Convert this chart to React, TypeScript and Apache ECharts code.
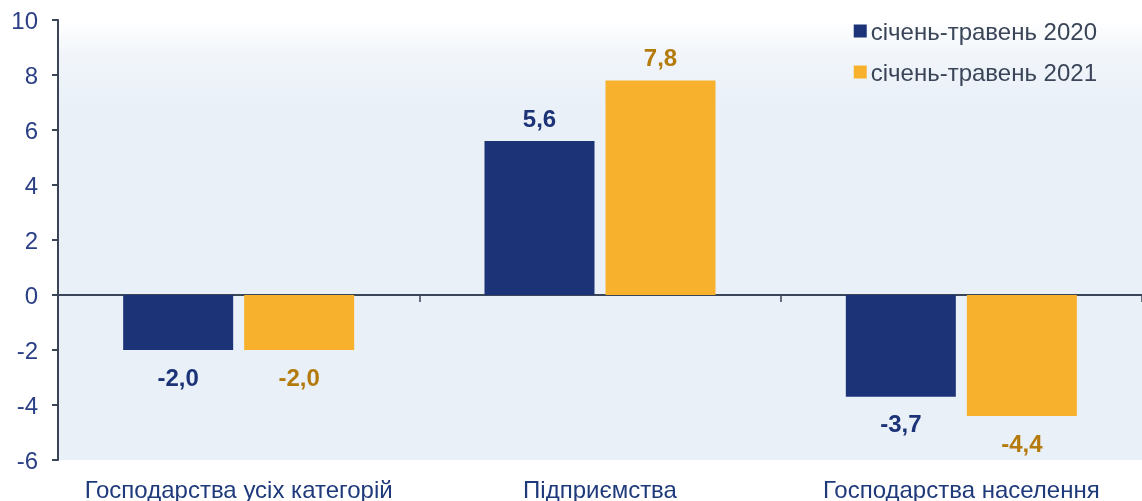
import React, { useEffect, useRef } from "react";
import * as echarts from "echarts";

const categories = ["Господарства усіх категорій", "Підприємства", "Господарства населення"];
const seriesNames = ["січень-травень 2020", "січень-травень 2021"];
const values2020 = [-2.0, 5.6, -3.7];
const values2021 = [-2.0, 7.8, -4.4];
const barColors = ["#1D3378", "#F8B12C"];
const labelColors = ["#1D3378", "#B47B0C"];

const FONT = "Arial, 'Liberation Sans', sans-serif";

function makeData(vals: number[]) {
  return vals.map((v) => ({
    value: v,
    label: { position: v < 0 ? "bottom" : "top", distance: v < 0 ? 15 : 11 },
  }));
}

export default function App() {
  const ref = useRef<HTMLDivElement>(null);
  useEffect(() => {
    if (!ref.current) return;
    const chart = echarts.init(ref.current, undefined, { renderer: "svg" });
    const fmt = (p: any) => Number(p.value).toFixed(1).replace(".", ",");
    chart.setOption({
      animation: false,
      textStyle: { fontFamily: FONT },
      grid: {
        left: 58,
        right: 0,
        top: 20,
        bottom: 41,
        show: true,
        borderWidth: 0,
        backgroundColor: new echarts.graphic.LinearGradient(0, 0, 0, 1, [
          { offset: 0, color: "#FFFFFF" },
          { offset: 0.08, color: "#F1F5FA" },
          { offset: 0.2, color: "#E9F0F8" },
          { offset: 1, color: "#E9F0F8" },
        ]),
      },
      legend: {
        orient: "vertical",
        right: 40,
        top: 14,
        itemWidth: 13,
        itemHeight: 13,
        itemGap: 17,
        icon: "rect",
        textStyle: {
          fontFamily: FONT,
          fontSize: 24,
          lineHeight: 24,
          color: "#3A4558",
          padding: [0, 0, 0, -1],
        },
        data: seriesNames,
      },
      xAxis: [
        {
          type: "category",
          data: categories,
          position: "bottom",
          axisLine: { show: false, onZero: false },
          axisTick: { show: false },
          axisLabel: {
            interval: 0,
            hideOverlap: false,
            fontFamily: FONT,
            fontSize: 24,
            color: "#1F3A7A",
            margin: 17,
          },
        },
        {
          type: "category",
          data: categories,
          position: "bottom",
          axisLine: { show: true, onZero: true, lineStyle: { color: "#3A4558", width: 2 } },
          axisTick: { show: true, length: 7, lineStyle: { color: "#3A4558", width: 1.5 } },
          axisLabel: { show: false },
        },
      ],
      yAxis: {
        type: "value",
        min: -6,
        max: 10,
        interval: 2,
        splitLine: { show: false },
        axisLine: { show: true, lineStyle: { color: "#3A4558", width: 2 } },
        axisTick: { show: true, length: 6, lineStyle: { color: "#3A4558", width: 2 } },
        axisLabel: { fontFamily: FONT, fontSize: 24, color: "#2A3F85", margin: 20 },
      },
      series: [0, 1].map((i) => ({
        name: seriesNames[i],
        type: "bar",
        xAxisIndex: 0,
        data: makeData(i === 0 ? values2020 : values2021),
        barWidth: 110,
        barGap: "10%",
        itemStyle: { color: barColors[i] },
        label: {
          show: true,
          formatter: fmt,
          fontFamily: FONT,
          fontSize: 24,
          fontWeight: "bold",
          color: labelColors[i],
        },
      })),
    });
    return () => chart.dispose();
  }, []);
  return (
    <div
      ref={ref}
      style={{ position: "fixed", left: 0, top: 0, width: 1142, height: 501 }}
    />
  );
}
